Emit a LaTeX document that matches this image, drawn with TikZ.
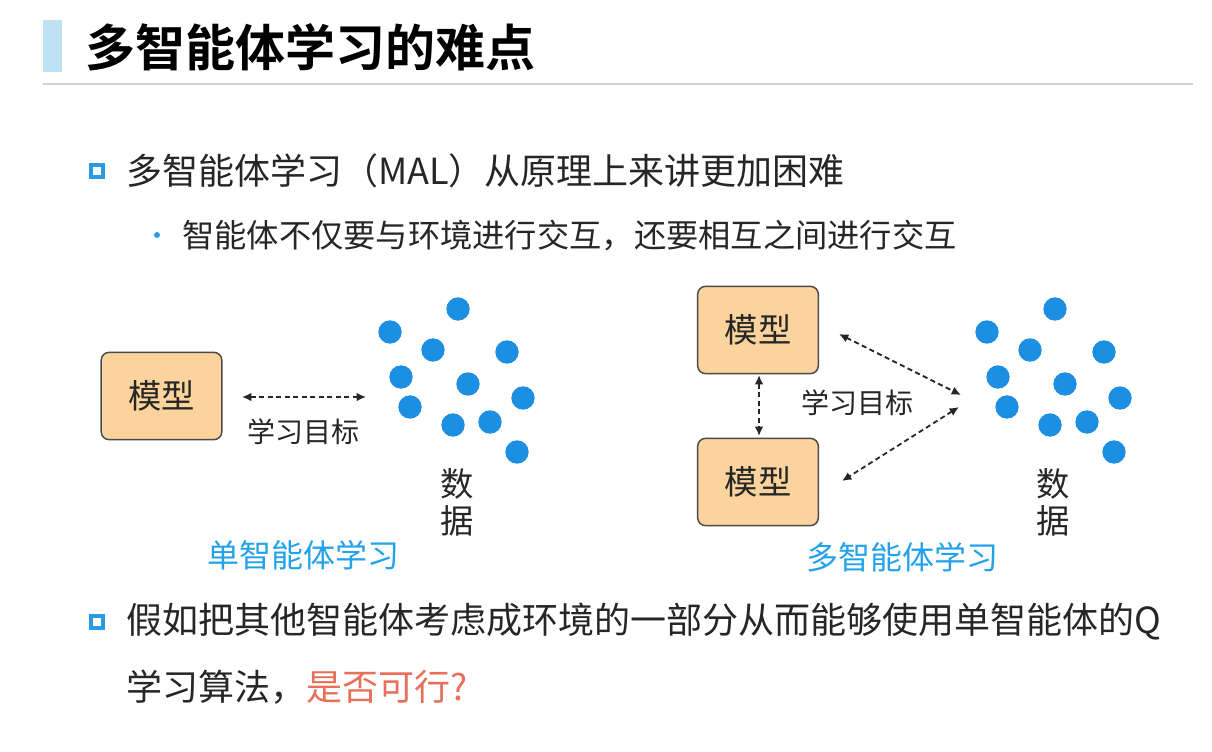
\documentclass[tikz,border=0pt]{standalone}
\usepackage{fontspec}
\setmainfont{Noto Sans CJK SC}
\newfontfamily\cjkb{Noto Sans CJK SC Bold}
\usetikzlibrary{arrows.meta,calc}
\definecolor{barblue}{HTML}{BEE1F3}
\definecolor{sepgray}{HTML}{CFCFCF}
\definecolor{txtgray}{HTML}{262626}
\definecolor{bulblue}{HTML}{2A9BE0}
\definecolor{dotblue}{HTML}{1C8FE3}
\definecolor{lblblue}{HTML}{22A2EA}
\definecolor{boxfill}{HTML}{FBD39C}
\definecolor{boxline}{HTML}{4A4A4A}
\definecolor{redq}{HTML}{E8705A}
\tikzset{
  bodytext/.style={anchor=west,inner sep=0pt,text=txtgray,font=\fontsize{27pt}{32pt}\selectfont},
  subtext/.style={anchor=west,inner sep=0pt,text=txtgray,font=\fontsize{24.2pt}{30pt}\selectfont},
  sqbullet/.style={draw=bulblue,line width=2.8pt,minimum size=8.6pt,inner sep=0pt,fill=white},
  dotbullet/.style={circle,fill=bulblue,minimum size=4.5pt,inner sep=0pt},
  modelbox/.style={draw=boxline,line width=1.1pt,fill=boxfill,rounded corners=6pt,minimum width=90.5pt,minimum height=65.5pt,inner sep=0pt,text=txtgray,font=\fontsize{25pt}{30pt}\selectfont},
  datadot/.style={circle,fill=dotblue,minimum size=17.5pt,inner sep=0pt},
  difflabel/.style={inner sep=0pt,text=txtgray,font=\fontsize{21pt}{26pt}\selectfont},
  datalabel/.style={inner sep=0pt,text=txtgray,font=\fontsize{25pt}{30pt}\selectfont},
  caption/.style={inner sep=0pt,text=lblblue,font=\fontsize{24pt}{30pt}\selectfont},
  dasharrow/.style={dashed,dash pattern=on 3.8pt off 2.6pt,line width=1.35pt,draw=txtgray,{Latex[length=7pt,width=6.5pt]}-{Latex[length=7pt,width=6.5pt]}}
}
\begin{document}
\begin{tikzpicture}[x=0.75pt,y=-0.75pt]
\useasboundingbox[fill=white] (0,0) rectangle (1212,752);
% title
\fill[barblue] (43,20) rectangle (62,72);
\node[anchor=west,inner sep=0pt,font=\cjkb\fontsize{37.5pt}{44pt}\selectfont] (title) at (85,47) {多智能体学习的难点};
\draw[sepgray,line width=1.5pt] (43,84) -- (1193,84);
% bullet 1
\node[sqbullet] (b1) at (97,171) {};
\node[bodytext] (t1) at (126,171) {多智能体学习（MAL）从原理上来讲更加困难};
\node[dotbullet] (b1a) at (157,235) {};
\node[subtext] (t1a) at (182,236) {智能体不仅要与环境进行交互，还要相互之间进行交互};
% left diagram
\node[modelbox] (mL) at (161.5,396) {模型};
\coordinate (aL1) at (242,397);
\coordinate (aL2) at (366,397);
\draw[dasharrow] (aL1) -- (aL2);
\node[difflabel] (gL) at (303,432) {学习目标};
\foreach \n/\px/\py in {1/458/309,2/390/332,3/433/350,4/507/352,5/401/377,6/468/384,7/523/398,8/410/407,9/453/425,10/490/422,11/517/452}{
  \node[datadot] (dL\n) at (\px,\py) {};
}
\node[datalabel] (sL1) at (457,484) {数};
\node[datalabel] (sL2) at (457,521) {据};
\node[caption] (cL) at (303,555) {单智能体学习};
% right diagram
\node[modelbox] (mR1) at (758,330) {模型};
\node[modelbox] (mR2) at (758,482) {模型};
\coordinate (v1) at (759,375);
\coordinate (v2) at (759,436);
\draw[dasharrow] (v1) -- (v2);
\coordinate (d1a) at (839,334);
\coordinate (d1b) at (961,395);
\coordinate (d2a) at (959,407);
\coordinate (d2b) at (842,481);
\draw[dasharrow] (d1a) -- (d1b);
\draw[dasharrow] (d2a) -- (d2b);
\node[difflabel] (gR) at (857,403) {学习目标};
\foreach \n/\px/\py in {1/458/309,2/390/332,3/433/350,4/507/352,5/401/377,6/468/384,7/523/398,8/410/407,9/453/425,10/490/422,11/517/452}{
  \node[datadot] (dR\n) at (\px+597,\py) {};
}
\node[datalabel] (sR1) at (1053,484) {数};
\node[datalabel] (sR2) at (1053,521) {据};
\node[caption] (cR) at (902,557) {多智能体学习};
% bullet 2
\node[sqbullet] (b2) at (97,622) {};
\node[bodytext] (t2) at (126,622) {假如把其他智能体考虑成环境的一部分从而能够使用单智能体的Q};
\node[bodytext] (t2b) at (126,687) {学习算法，\textcolor{redq}{是否可行?}};
\end{tikzpicture}
\end{document}
